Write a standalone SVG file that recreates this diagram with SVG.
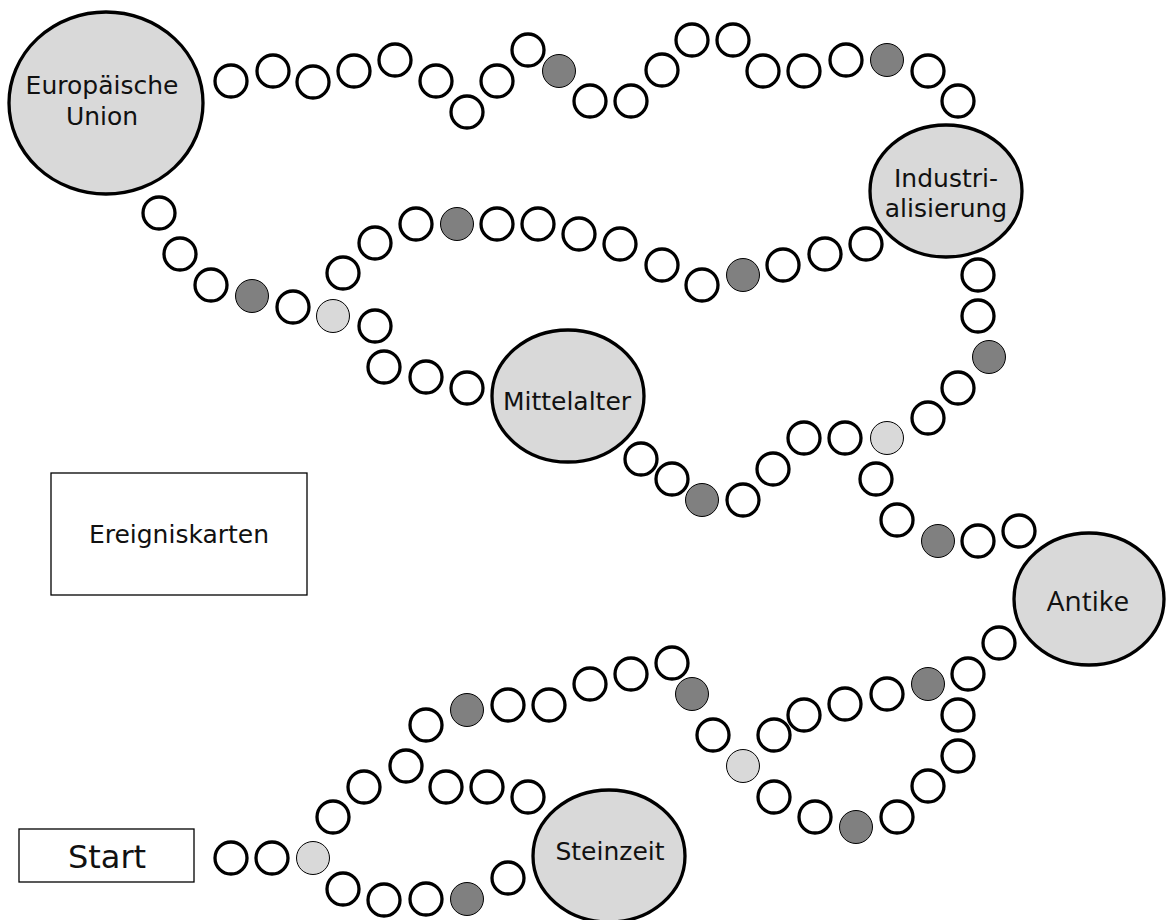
<svg xmlns="http://www.w3.org/2000/svg" width="1166" height="920" viewBox="0 0 1166 920">
<style>
.bg{fill:#ffffff}
.station{fill:#d9d9d9;stroke:#000;stroke-width:3.3}
.f{fill:#ffffff;stroke:#000;stroke-width:3.3}
.d{fill:#808080;stroke:#000;stroke-width:1}
.l{fill:#d9d9d9;stroke:#000;stroke-width:1}
.box{fill:#ffffff;stroke:#000;stroke-width:1.3}
.t{font-family:"DejaVu Sans","Verdana",sans-serif;font-size:25px;fill:#111;text-anchor:middle}
.ta{font-family:"Open Sans","Noto Sans",sans-serif;font-size:28px;fill:#111;text-anchor:middle}
</style>
<rect class="bg" x="0" y="0" width="1166" height="920"/>

<g id="eu">
<ellipse class="station" cx="106" cy="103" rx="97" ry="91"/>
<text class="t" x="102" y="94">Europäische</text>
<text class="t" x="102" y="125">Union</text>
</g>
<g id="industrialisierung">
<ellipse class="station" cx="946" cy="191" rx="76" ry="66"/>
<text class="t" x="946" y="187">Industri-</text>
<text class="t" x="946" y="217">alisierung</text>
</g>
<g id="mittelalter">
<ellipse class="station" cx="568" cy="396" rx="76" ry="66"/>
<text class="t" x="567" y="410">Mittelalter</text>
</g>
<g id="antike">
<ellipse class="station" cx="1089" cy="599" rx="75" ry="66"/>
<text class="ta" x="1088" y="611">Antike</text>
</g>
<g id="steinzeit">
<ellipse class="station" cx="609" cy="856" rx="76" ry="66"/>
<text class="t" x="610" y="860">Steinzeit</text>
</g>
<g id="ereigniskarten">
<rect class="box" x="51" y="473" width="256" height="122"/>
<text class="t" x="179" y="543">Ereigniskarten</text>
</g>
<g id="start">
<rect class="box" x="19" y="829" width="175" height="53"/>
<text class="t" x="107" y="868" style="font-size:32px">Start</text>
</g>

<g id="connectors">
<!-- top row: EU to Industrialisierung -->
<circle class="f" cx="231" cy="81" r="16"/>
<circle class="f" cx="273" cy="71" r="16"/>
<circle class="f" cx="313" cy="82" r="16"/>
<circle class="f" cx="354" cy="71" r="16"/>
<circle class="f" cx="395" cy="60" r="16"/>
<circle class="f" cx="436" cy="81" r="16"/>
<circle class="f" cx="467" cy="112" r="16"/>
<circle class="f" cx="497" cy="81" r="16"/>
<circle class="f" cx="528" cy="50" r="16"/>
<circle class="d" cx="559" cy="71" r="16.5"/>
<circle class="f" cx="590" cy="101" r="16"/>
<circle class="f" cx="631" cy="101" r="16"/>
<circle class="f" cx="662" cy="70" r="16"/>
<circle class="f" cx="692" cy="40" r="16"/>
<circle class="f" cx="733" cy="40" r="16"/>
<circle class="f" cx="763" cy="71" r="16"/>
<circle class="f" cx="804" cy="71" r="16"/>
<circle class="f" cx="846" cy="60" r="16"/>
<circle class="d" cx="887" cy="60" r="16.5"/>
<circle class="f" cx="928" cy="71" r="16"/>
<circle class="f" cx="958" cy="101" r="16"/>
<!-- EU down-left chain -->
<circle class="f" cx="159" cy="213" r="16"/>
<circle class="f" cx="180" cy="254" r="16"/>
<circle class="f" cx="211" cy="285" r="16"/>
<circle class="d" cx="252" cy="296" r="16.5"/>
<circle class="f" cx="293" cy="307" r="16"/>
<circle class="l" cx="333" cy="316" r="16.5"/>
<!-- middle row to Industrialisierung -->
<circle class="f" cx="343" cy="273" r="16"/>
<circle class="f" cx="375" cy="243" r="16"/>
<circle class="f" cx="416" cy="224" r="16"/>
<circle class="d" cx="457" cy="224" r="16.5"/>
<circle class="f" cx="497" cy="224" r="16"/>
<circle class="f" cx="538" cy="224" r="16"/>
<circle class="f" cx="579" cy="234" r="16"/>
<circle class="f" cx="620" cy="244" r="16"/>
<circle class="f" cx="662" cy="265" r="16"/>
<circle class="f" cx="702" cy="285" r="16"/>
<circle class="d" cx="743" cy="275" r="16.5"/>
<circle class="f" cx="783" cy="265" r="16"/>
<circle class="f" cx="825" cy="254" r="16"/>
<circle class="f" cx="866" cy="244" r="16"/>
<!-- down to Mittelalter -->
<circle class="f" cx="375" cy="326" r="16"/>
<circle class="f" cx="384" cy="367" r="16"/>
<circle class="f" cx="426" cy="377" r="16"/>
<circle class="f" cx="467" cy="388" r="16"/>
<!-- Mittelalter to right -->
<circle class="f" cx="641" cy="459" r="16"/>
<circle class="f" cx="672" cy="479" r="16"/>
<circle class="d" cx="702" cy="500" r="16.5"/>
<circle class="f" cx="743" cy="500" r="16"/>
<circle class="f" cx="773" cy="469" r="16"/>
<circle class="f" cx="804" cy="438" r="16"/>
<circle class="f" cx="845" cy="438" r="16"/>
<circle class="l" cx="887" cy="438" r="16.5"/>
<circle class="f" cx="928" cy="418" r="16"/>
<circle class="f" cx="958" cy="388" r="16"/>
<circle class="d" cx="989" cy="357" r="16.5"/>
<circle class="f" cx="978" cy="316" r="16"/>
<circle class="f" cx="978" cy="275" r="16"/>
<!-- to Antike -->
<circle class="f" cx="876" cy="479" r="16"/>
<circle class="f" cx="897" cy="520" r="16"/>
<circle class="d" cx="938" cy="541" r="16.5"/>
<circle class="f" cx="978" cy="541" r="16"/>
<circle class="f" cx="1019" cy="531" r="16"/>
<!-- Antike loop -->
<circle class="f" cx="999" cy="643" r="16"/>
<circle class="f" cx="968" cy="674" r="16"/>
<circle class="d" cx="928" cy="684" r="16.5"/>
<circle class="f" cx="887" cy="694" r="16"/>
<circle class="f" cx="845" cy="704" r="16"/>
<circle class="f" cx="804" cy="715" r="16"/>
<circle class="f" cx="774" cy="735" r="16"/>
<circle class="f" cx="958" cy="715" r="16"/>
<circle class="f" cx="958" cy="756" r="16"/>
<circle class="f" cx="928" cy="786" r="16"/>
<circle class="f" cx="897" cy="817" r="16"/>
<circle class="d" cx="856" cy="827" r="16.5"/>
<circle class="f" cx="815" cy="817" r="16"/>
<circle class="f" cx="774" cy="797" r="16"/>
<circle class="l" cx="743" cy="766" r="16.5"/>
<!-- lower arc -->
<circle class="f" cx="713" cy="735" r="16"/>
<circle class="d" cx="692" cy="694" r="16.5"/>
<circle class="f" cx="672" cy="663" r="16"/>
<circle class="f" cx="631" cy="674" r="16"/>
<circle class="f" cx="590" cy="684" r="16"/>
<circle class="f" cx="549" cy="705" r="16"/>
<circle class="f" cx="508" cy="705" r="16"/>
<circle class="d" cx="467" cy="710" r="16.5"/>
<circle class="f" cx="426" cy="725" r="16"/>
<circle class="f" cx="406" cy="766" r="16"/>
<circle class="f" cx="446" cy="787" r="16"/>
<circle class="f" cx="487" cy="787" r="16"/>
<circle class="f" cx="528" cy="797" r="16"/>
<circle class="f" cx="364" cy="787" r="16"/>
<circle class="f" cx="333" cy="817" r="16"/>
<!-- start chain -->
<circle class="f" cx="231" cy="858" r="16"/>
<circle class="f" cx="272" cy="858" r="16"/>
<circle class="l" cx="313" cy="858" r="16.5"/>
<circle class="f" cx="343" cy="889" r="16"/>
<circle class="f" cx="384" cy="900" r="16"/>
<circle class="f" cx="426" cy="899" r="16"/>
<circle class="d" cx="467" cy="899" r="16.5"/>
<circle class="f" cx="508" cy="878" r="16"/>
</g>
</svg>
